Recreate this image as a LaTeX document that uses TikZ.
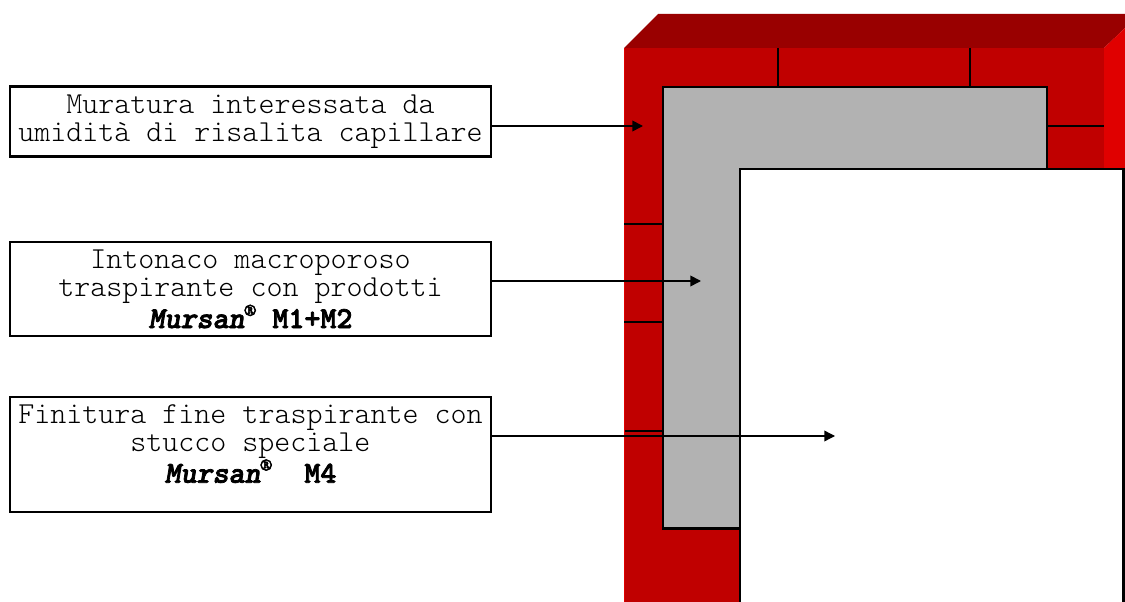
\documentclass[tikz,border=0pt]{standalone}
\usepackage{fontspec}
\usetikzlibrary{arrows.meta}

\newfontface\brandbold[Extension=.otf, FakeBold=2.5]{lmmonolt10-bold}
\newfontface\brandslant[Extension=.otf, FakeBold=2.5]{lmmonolt10-boldoblique}

\definecolor{wallfront}{HTML}{C00000}
\definecolor{walltop}{HTML}{990000}
\definecolor{wallside}{HTML}{E00000}
\definecolor{plaster}{HTML}{B2B2B2}

\newcommand{\brand}[1]{{\brandslant Mursan}\textsuperscript{\brandbold\textregistered}{\brandbold #1}}

\tikzset{
  labelbox/.style={draw=black, line width=1.3pt, fill=white, inner sep=0pt, minimum width=360.75pt,
    align=center, font=\fontsize{22.86}{21}\ttfamily\fontseries{l}\selectfont},
  pointer/.style={black, line width=1.25pt, -{Triangle[length=8pt,width=8pt]}},
  joint/.style={black, line width=1.5pt}
}

\begin{document}
\begin{tikzpicture}[x=.75pt, y=-.75pt]
\useasboundingbox (0,0) rectangle (1125,602);

% wall
\fill [wallfront] (624,48) rectangle (1104,602);
\fill [walltop] (624,48) -- (658,14) -- (1125,14) -- (1125,28) -- (1104,48) -- cycle;
\fill [wallside] (1104,48) -- (1125,28) -- (1125,169) -- (1104,169) -- cycle;
\fill [wallside] (624,48) rectangle (625,602);

% joints
\draw [joint] (778,48) -- (778,87);
\draw [joint] (970,48) -- (970,87);
\draw [joint] (1047,126) -- (1104,126);
\draw [joint] (624,224.5) -- (663,224.5);
\draw [joint] (624,322) -- (663,322);
\draw [joint, line width=1.9pt] (625,431) -- (663,431);

% plaster and room
\draw [fill=plaster, line width=1.75pt] (663,87) -- (1047,87) -- (1047,169) -- (740,169) -- (740,528.5) -- (663,528.5) -- cycle;
\draw [fill=white, line width=1.75pt] (740,602) -- (740,169) -- (1123.5,169) -- (1123.5,602);

% labels
\node [labelbox, line width=1.75pt, minimum height=52.5pt] (muro) at (250.5,121.5) {Muratura interessata da\\umidità di risalita capillare};
\node [labelbox, minimum height=70.5pt] (intonaco) at (250.5,289) {Intonaco macroporoso\\traspirante con prodotti\\\brand{ M1+M2}};
\node [labelbox, minimum height=86.25pt] (finitura) at (250.5,454.5) {Finitura fine traspirante con\\stucco speciale\\\brand{\ \ M4}\\[-4.5pt]~};

\coordinate (tipmuro) at (643,126);
\coordinate (tipintonaco) at (701,281);
\coordinate (tipfinitura) at (835,436);

\draw [pointer] (muro.east |- tipmuro) -- (tipmuro);
\draw [pointer] (intonaco.east |- tipintonaco) -- (tipintonaco);
\draw [pointer, line width=1pt] (finitura.east |- tipfinitura) -- (tipfinitura);

\end{tikzpicture}
\end{document}
